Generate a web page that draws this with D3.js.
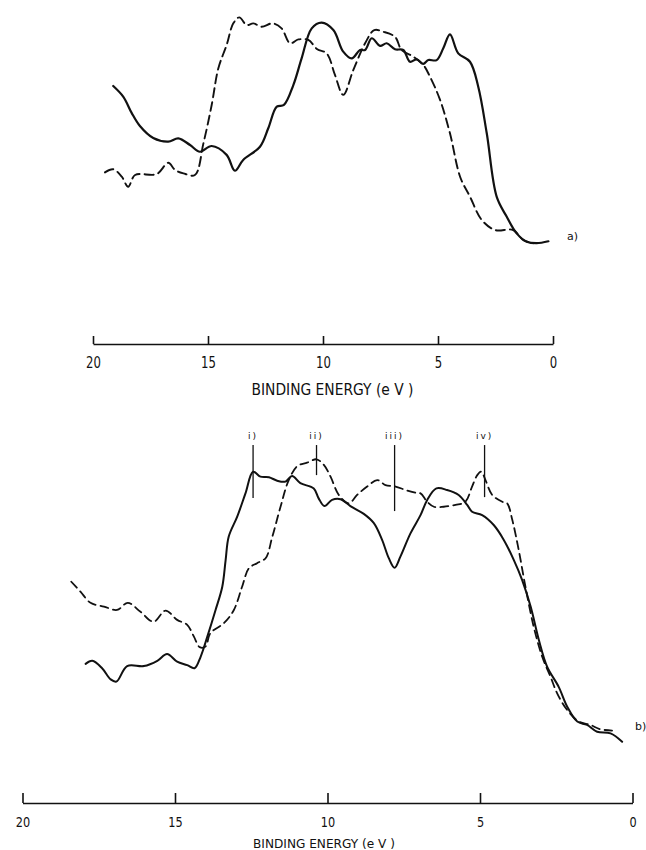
<!DOCTYPE html>
<html>
<head>
<meta charset="utf-8">
<script src="https://cdn.jsdelivr.net/npm/d3@7"></script>
<style>
  body { margin: 0; background: #fff; }
  text { font-family: "DejaVu Sans", sans-serif; fill: #111; }
</style>
</head>
<body>
<div id="canvas"></div>
<script>
// ---- data (binding energy eV, intensity arbitrary units) ----
var tickValues = [20, 15, 10, 5, 0];

// panel a)
var aSolidE = [19.12, 18.68, 18.32, 17.96, 17.38, 16.73, 16.29, 15.78, 15.35, 14.84, 14.19, 13.83, 13.47, 12.74, 12.38, 12.01, 11.70, 11.29, 10.93, 10.49, 10.06, 9.55, 9.12, 8.75, 8.39, 8.17, 7.88, 7.52, 7.23, 6.87, 6.51, 6.22, 5.93, 5.64, 5.42, 5.06, 4.77, 4.48, 4.12, 3.61, 3.25, 2.88, 2.45, 2.01, 1.58, 1.14, 0.71, 0.20];
var aSolidI = [72.5, 68.0, 61.3, 55.8, 50.8, 49.3, 50.7, 47.9, 45.1, 47.5, 43.8, 37.2, 41.7, 47.2, 54.9, 63.9, 64.6, 72.9, 84.0, 96.5, 98.9, 95.8, 86.8, 84.0, 87.5, 87.5, 92.4, 89.2, 90.3, 87.8, 87.5, 82.6, 83.6, 81.7, 83.3, 83.3, 88.2, 94.0, 86.1, 82.6, 72.2, 52.8, 26.4, 18.0, 11.1, 7.6, 7.0, 7.8];
var aDashE = [19.48, 19.12, 18.75, 18.47, 18.17, 17.23, 16.73, 16.43, 16.07, 15.57, 15.20, 14.84, 14.55, 14.19, 13.90, 13.64, 13.32, 13.03, 12.67, 12.19, 11.80, 11.43, 11.07, 10.64, 10.25, 9.84, 9.48, 9.12, 8.68, 8.17, 7.77, 7.38, 6.87, 6.58, 6.07, 5.64, 5.35, 4.91, 4.48, 4.04, 3.61, 3.10, 2.52, 1.73, 1.29, 0.86];
var aDashI = [36.5, 37.8, 34.7, 30.5, 35.4, 35.8, 40.5, 37.5, 36.1, 35.4, 48.6, 64.6, 79.9, 89.6, 98.6, 101.1, 97.9, 98.6, 97.2, 98.6, 96.5, 90.3, 91.9, 91.7, 87.8, 86.1, 77.1, 68.8, 79.2, 90.3, 95.8, 95.1, 93.0, 87.5, 84.7, 81.3, 76.4, 66.7, 52.8, 34.7, 26.4, 16.7, 12.5, 12.5, 8.3, 7.0];

// panel b)
var bSolidE = [17.93, 17.71, 17.39, 17.11, 16.92, 16.57, 16.02, 15.58, 15.26, 14.93, 14.60, 14.36, 14.16, 13.94, 13.67, 13.45, 13.34, 13.24, 12.96, 12.69, 12.44, 12.20, 11.92, 11.65, 11.38, 11.16, 10.89, 10.45, 10.29, 10.10, 9.85, 9.57, 9.25, 8.81, 8.48, 8.21, 7.99, 7.80, 7.61, 7.28, 6.95, 6.73, 6.43, 6.08, 5.70, 5.42, 5.26, 4.93, 4.55, 4.22, 3.89, 3.62, 3.34, 3.07, 2.80, 2.42, 2.14, 1.81, 1.49, 1.16, 0.72, 0.34];
var bSolidI = [31.0, 32.0, 29.6, 26.0, 25.3, 30.3, 30.3, 32.0, 34.2, 31.7, 30.6, 29.6, 33.3, 39.8, 48.4, 55.9, 64.5, 72.0, 78.5, 86.0, 93.0, 91.4, 91.2, 90.1, 89.8, 91.6, 89.3, 87.6, 84.4, 81.9, 83.9, 84.1, 81.9, 79.4, 76.4, 71.0, 65.1, 62.0, 65.6, 73.1, 79.0, 83.9, 87.6, 87.1, 85.5, 82.3, 80.1, 79.0, 75.8, 71.0, 64.5, 58.1, 49.5, 38.7, 30.1, 23.6, 17.2, 12.4, 11.3, 9.1, 8.6, 5.9];
var bDashE = [18.40, 18.10, 17.77, 17.33, 16.90, 16.55, 16.13, 15.70, 15.31, 14.93, 14.60, 14.38, 14.19, 14.00, 13.84, 13.40, 13.07, 12.80, 12.58, 12.31, 12.03, 11.81, 11.54, 11.27, 10.99, 10.67, 10.36, 10.12, 9.90, 9.63, 9.30, 9.03, 8.70, 8.37, 8.10, 7.77, 7.44, 7.11, 6.95, 6.73, 6.51, 6.19, 5.80, 5.48, 5.26, 5.09, 4.96, 4.82, 4.60, 4.27, 4.11, 3.94, 3.73, 3.51, 3.24, 2.96, 2.69, 2.47, 2.14, 1.76, 1.38, 1.05, 0.67];
var bDashI = [57.5, 54.3, 50.7, 49.5, 48.4, 50.7, 47.8, 44.6, 48.2, 45.2, 43.6, 39.8, 36.4, 36.6, 40.9, 44.1, 48.4, 55.9, 61.8, 63.5, 65.1, 72.0, 81.7, 90.3, 94.8, 95.9, 97.0, 95.2, 91.4, 85.5, 82.8, 85.5, 88.2, 90.3, 88.7, 88.2, 87.1, 86.2, 86.0, 83.3, 81.7, 81.7, 82.3, 83.3, 88.2, 91.9, 93.0, 90.3, 85.5, 83.3, 82.8, 77.4, 67.7, 55.9, 43.0, 33.3, 26.9, 21.5, 16.1, 12.4, 11.3, 9.9, 9.5];

// peak markers in panel b)
var markerLabels = ["i)", "ii)", "iii)", "iv)"];
var markerE = [12.44, 10.36, 7.80, 4.85];
var markerLow = [84.5, 91.9, 80.3, 84.8];
var markerTop = 101.6;

var axisTitle = "BINDING ENERGY (e V )";

// ---- drawing ----
var width = 646, height = 850;
var svg = d3.select("#canvas").append("svg")
    .attr("width", width)
    .attr("height", height);

var xA = d3.scaleLinear().domain([20, 0]).range([93, 553]);
var yA = d3.scaleLinear().domain([0, 100]).range([260, 20]);
var xB = d3.scaleLinear().domain([20, 0]).range([22.5, 632.5]);
var yB = d3.scaleLinear().domain([0, 100]).range([760, 450]);

function zip(es, is) {
    return es.map(function(e, i) { return [e, is[i]]; });
}

function drawCurve(xs, ys, pts, w, dash) {
    var line = d3.line()
        .x(function(d) { return xs(d[0]); })
        .y(function(d) { return ys(d[1]); })
        .curve(d3.curveCatmullRom.alpha(0.5));
    var p = svg.append("path")
        .datum(pts)
        .attr("d", line)
        .attr("fill", "none")
        .attr("stroke", "#111")
        .attr("stroke-width", w)
        .attr("stroke-linejoin", "round")
        .attr("stroke-linecap", "round");
    if (dash) p.attr("stroke-dasharray", dash);
}

function drawAxis(xs, yPos, tick, pad, fs) {
    var axis = d3.axisBottom(xs)
        .tickValues(tickValues)
        .tickFormat(d3.format("d"))
        .tickSizeInner(-tick)
        .tickSizeOuter(0)
        .tickPadding(pad);
    var g = svg.append("g")
        .attr("transform", "translate(0," + yPos + ")")
        .call(axis);
    g.select(".domain").attr("stroke", "#111").attr("stroke-width", 1.6);
    g.selectAll(".tick line").attr("stroke", "#111").attr("stroke-width", 1.6);
    g.selectAll(".tick text")
        .attr("fill", "#111")
        .style("font-family", "DejaVu Sans, sans-serif")
        .style("font-size", fs + "px")
        .attr("transform", "scale(0.78,1)");
    return g;
}

// panel a)
drawCurve(xA, yA, zip(aSolidE, aSolidI), 2.2, null);
drawCurve(xA, yA, zip(aDashE, aDashI), 1.9, "9,5");
drawAxis(xA, 344, 8, 13, 15);
svg.append("text")
    .text(axisTitle)
    .attr("x", 332.5)
    .attr("y", 395)
    .attr("text-anchor", "middle")
    .attr("textLength", 162)
    .attr("lengthAdjust", "spacingAndGlyphs")
    .style("font-size", "16px");
svg.append("text")
    .text("a)")
    .attr("x", 567)
    .attr("y", 240)
    .style("font-size", "11px");

// panel b)
drawCurve(xB, yB, zip(bSolidE, bSolidI), 2.0, null);
drawCurve(xB, yB, zip(bDashE, bDashI), 1.8, "8,5");

svg.selectAll(".marker")
    .data(markerE)
    .enter()
    .append("line")
    .attr("class", "marker")
    .attr("x1", function(d) { return xB(d); })
    .attr("x2", function(d) { return xB(d); })
    .attr("y1", yB(markerTop))
    .attr("y2", function(d, i) { return yB(markerLow[i]); })
    .attr("stroke", "#111")
    .attr("stroke-width", 1.3);

svg.selectAll(".marker-label")
    .data(markerE)
    .enter()
    .append("text")
    .attr("class", "marker-label")
    .text(function(d, i) { return markerLabels[i]; })
    .attr("x", function(d) { return xB(d); })
    .attr("y", 439)
    .attr("text-anchor", "middle")
    .style("font-size", "9px")
    .style("letter-spacing", "2px");

drawAxis(xB, 803, 10, 13.5, 14.5);
svg.append("text")
    .text(axisTitle)
    .attr("x", 324)
    .attr("y", 848)
    .attr("text-anchor", "middle")
    .attr("textLength", 142)
    .attr("lengthAdjust", "spacingAndGlyphs")
    .style("font-size", "12.5px");
svg.append("text")
    .text("b)")
    .attr("x", 635)
    .attr("y", 730)
    .style("font-size", "11px");
</script>
</body>
</html>
